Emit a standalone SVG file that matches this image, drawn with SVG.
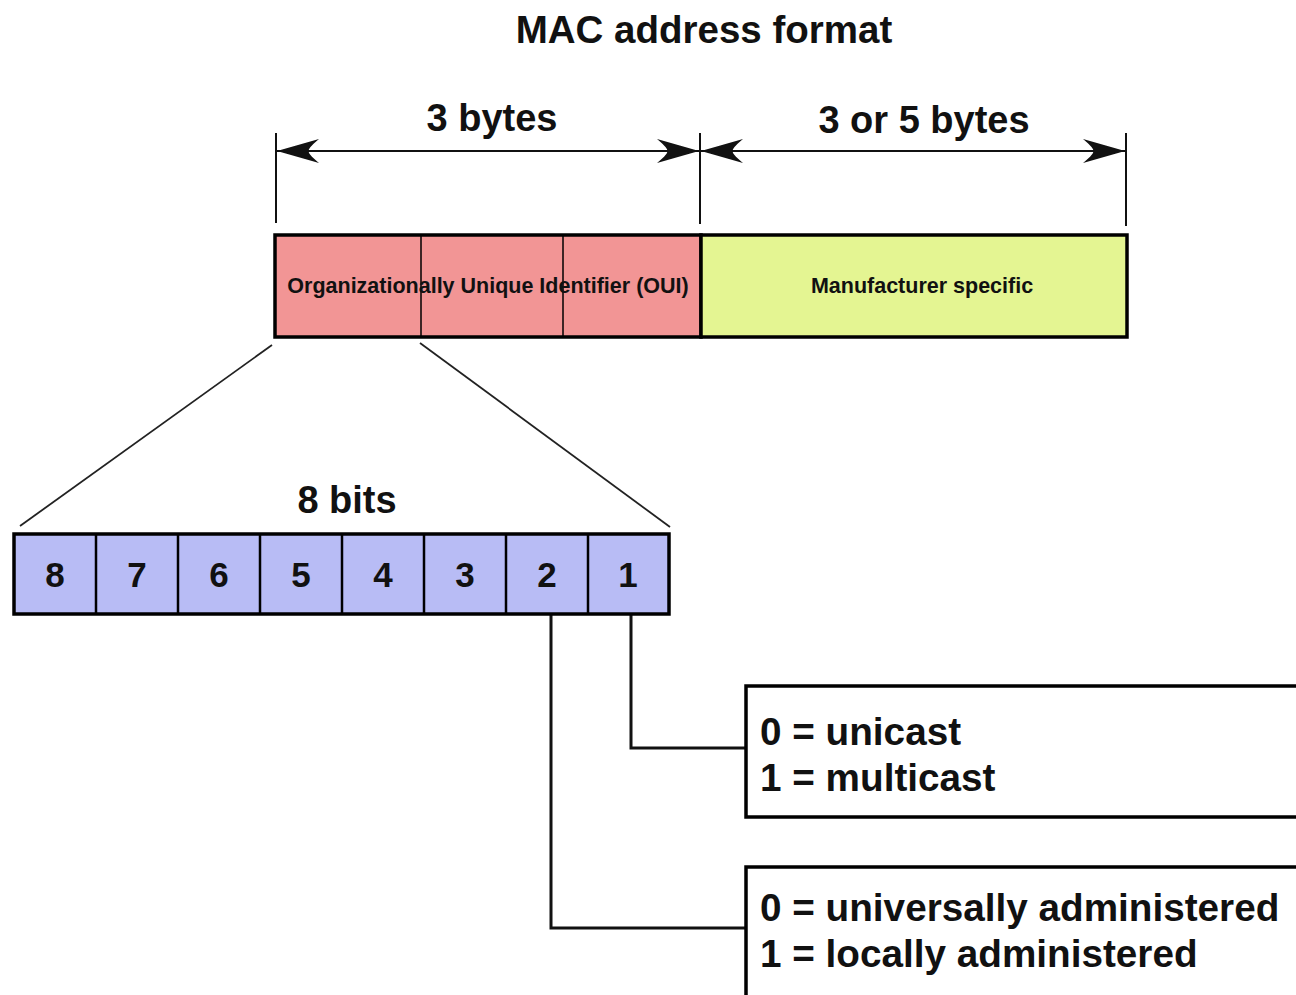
<svg xmlns="http://www.w3.org/2000/svg" width="1296" height="995" viewBox="0 0 1296 995">
  <style>
    text { font-family: "Liberation Sans", Arial, sans-serif; font-weight: bold; fill: #111; }
    .big { font-size: 38px; }
    .note { font-size: 38.7px; }
    .small { font-size: 21.5px; }
    .frame { stroke: #000; stroke-width: 3.5; }
    .thin { stroke: #000; stroke-width: 1.5; fill: none; }
    .tick { stroke: #111; stroke-width: 2; fill: none; }
    .wire { stroke: #111; stroke-width: 3; fill: none; }
    .spread { stroke: #222; stroke-width: 1.8; fill: none; }
  </style>
  <defs>
    <marker id="head" viewBox="0 0 42 26" refX="42" refY="13" markerWidth="42" markerHeight="26" markerUnits="userSpaceOnUse" orient="auto-start-reverse">
      <path d="M42,13 L0,1 Q12,11 10,13 Q12,15 0,25 Z" fill="#111"/>
    </marker>
  </defs>

  <!-- title -->
  <text id="title" class="big" x="704" y="43" text-anchor="middle" style="font-size:38.5px">MAC address format</text>

  <!-- dimension bars -->
  <g id="dimensions">
    <line class="tick" x1="276" y1="133" x2="276" y2="223"/>
    <line class="tick" x1="700" y1="133" x2="700" y2="224"/>
    <line class="tick" x1="1126" y1="133" x2="1126" y2="226"/>
    <line class="tick" x1="277" y1="151" x2="699" y2="151" marker-start="url(#head)" marker-end="url(#head)"/>
    <line class="tick" x1="701" y1="151" x2="1125" y2="151" marker-start="url(#head)" marker-end="url(#head)"/>
    <text class="big" x="492" y="131" text-anchor="middle">3 bytes</text>
    <text class="big" x="924" y="133" text-anchor="middle">3 or 5 bytes</text>
  </g>

  <!-- address bar -->
  <g id="oui">
    <rect class="frame" x="275" y="235" width="426" height="102" fill="#f29595"/>
    <line class="thin" x1="421" y1="235" x2="421" y2="337"/>
    <line class="thin" x1="563" y1="235" x2="563" y2="337"/>
    <text class="small" x="488" y="293" text-anchor="middle">Organizationally Unique Identifier (OUI)</text>
  </g>
  <g id="manufacturer">
    <rect class="frame" x="701" y="235" width="426" height="102" fill="#e4f592"/>
    <text class="small" x="922" y="293" text-anchor="middle">Manufacturer specific</text>
  </g>

  <!-- octet expansion -->
  <g id="connectors">
    <line class="spread" x1="272" y1="345" x2="20" y2="526"/>
    <line class="spread" x1="420" y1="343" x2="670" y2="527"/>
    <polyline class="wire" points="631,615 631,748 746,748"/>
    <polyline class="wire" points="551,615 551,928 746,928"/>
  </g>

  <text id="bits-label" class="big" x="347" y="513" text-anchor="middle">8 bits</text>

  <g id="octet">
    <rect class="frame" x="14" y="534" width="655" height="80" fill="#b8bcf5"/>
    <g class="thin" style="stroke-width:2.5">
      <line x1="96" y1="534" x2="96" y2="614"/>
      <line x1="178" y1="534" x2="178" y2="614"/>
      <line x1="260" y1="534" x2="260" y2="614"/>
      <line x1="342" y1="534" x2="342" y2="614"/>
      <line x1="424" y1="534" x2="424" y2="614"/>
      <line x1="506" y1="534" x2="506" y2="614"/>
      <line x1="588" y1="534" x2="588" y2="614"/>
    </g>
    <g style="font-size:35px" text-anchor="middle">
      <text x="55" y="587">8</text>
      <text x="137" y="587">7</text>
      <text x="219" y="587">6</text>
      <text x="301" y="587">5</text>
      <text x="383" y="587">4</text>
      <text x="465" y="587">3</text>
      <text x="547" y="587">2</text>
      <text x="628" y="587">1</text>
    </g>
  </g>

  <g id="cast-bit">
    <rect class="frame" x="746" y="686" width="560" height="131" fill="#fff"/>
    <text class="note" x="760" y="745">0 = unicast</text>
    <text class="note" x="760" y="791">1 = multicast</text>
  </g>

  <g id="admin-bit">
    <rect class="frame" x="746" y="867" width="560" height="140" fill="#fff"/>
    <text class="note" x="760" y="921">0 = universally administered</text>
    <text class="note" x="760" y="967">1 = locally administered</text>
  </g>
</svg>
